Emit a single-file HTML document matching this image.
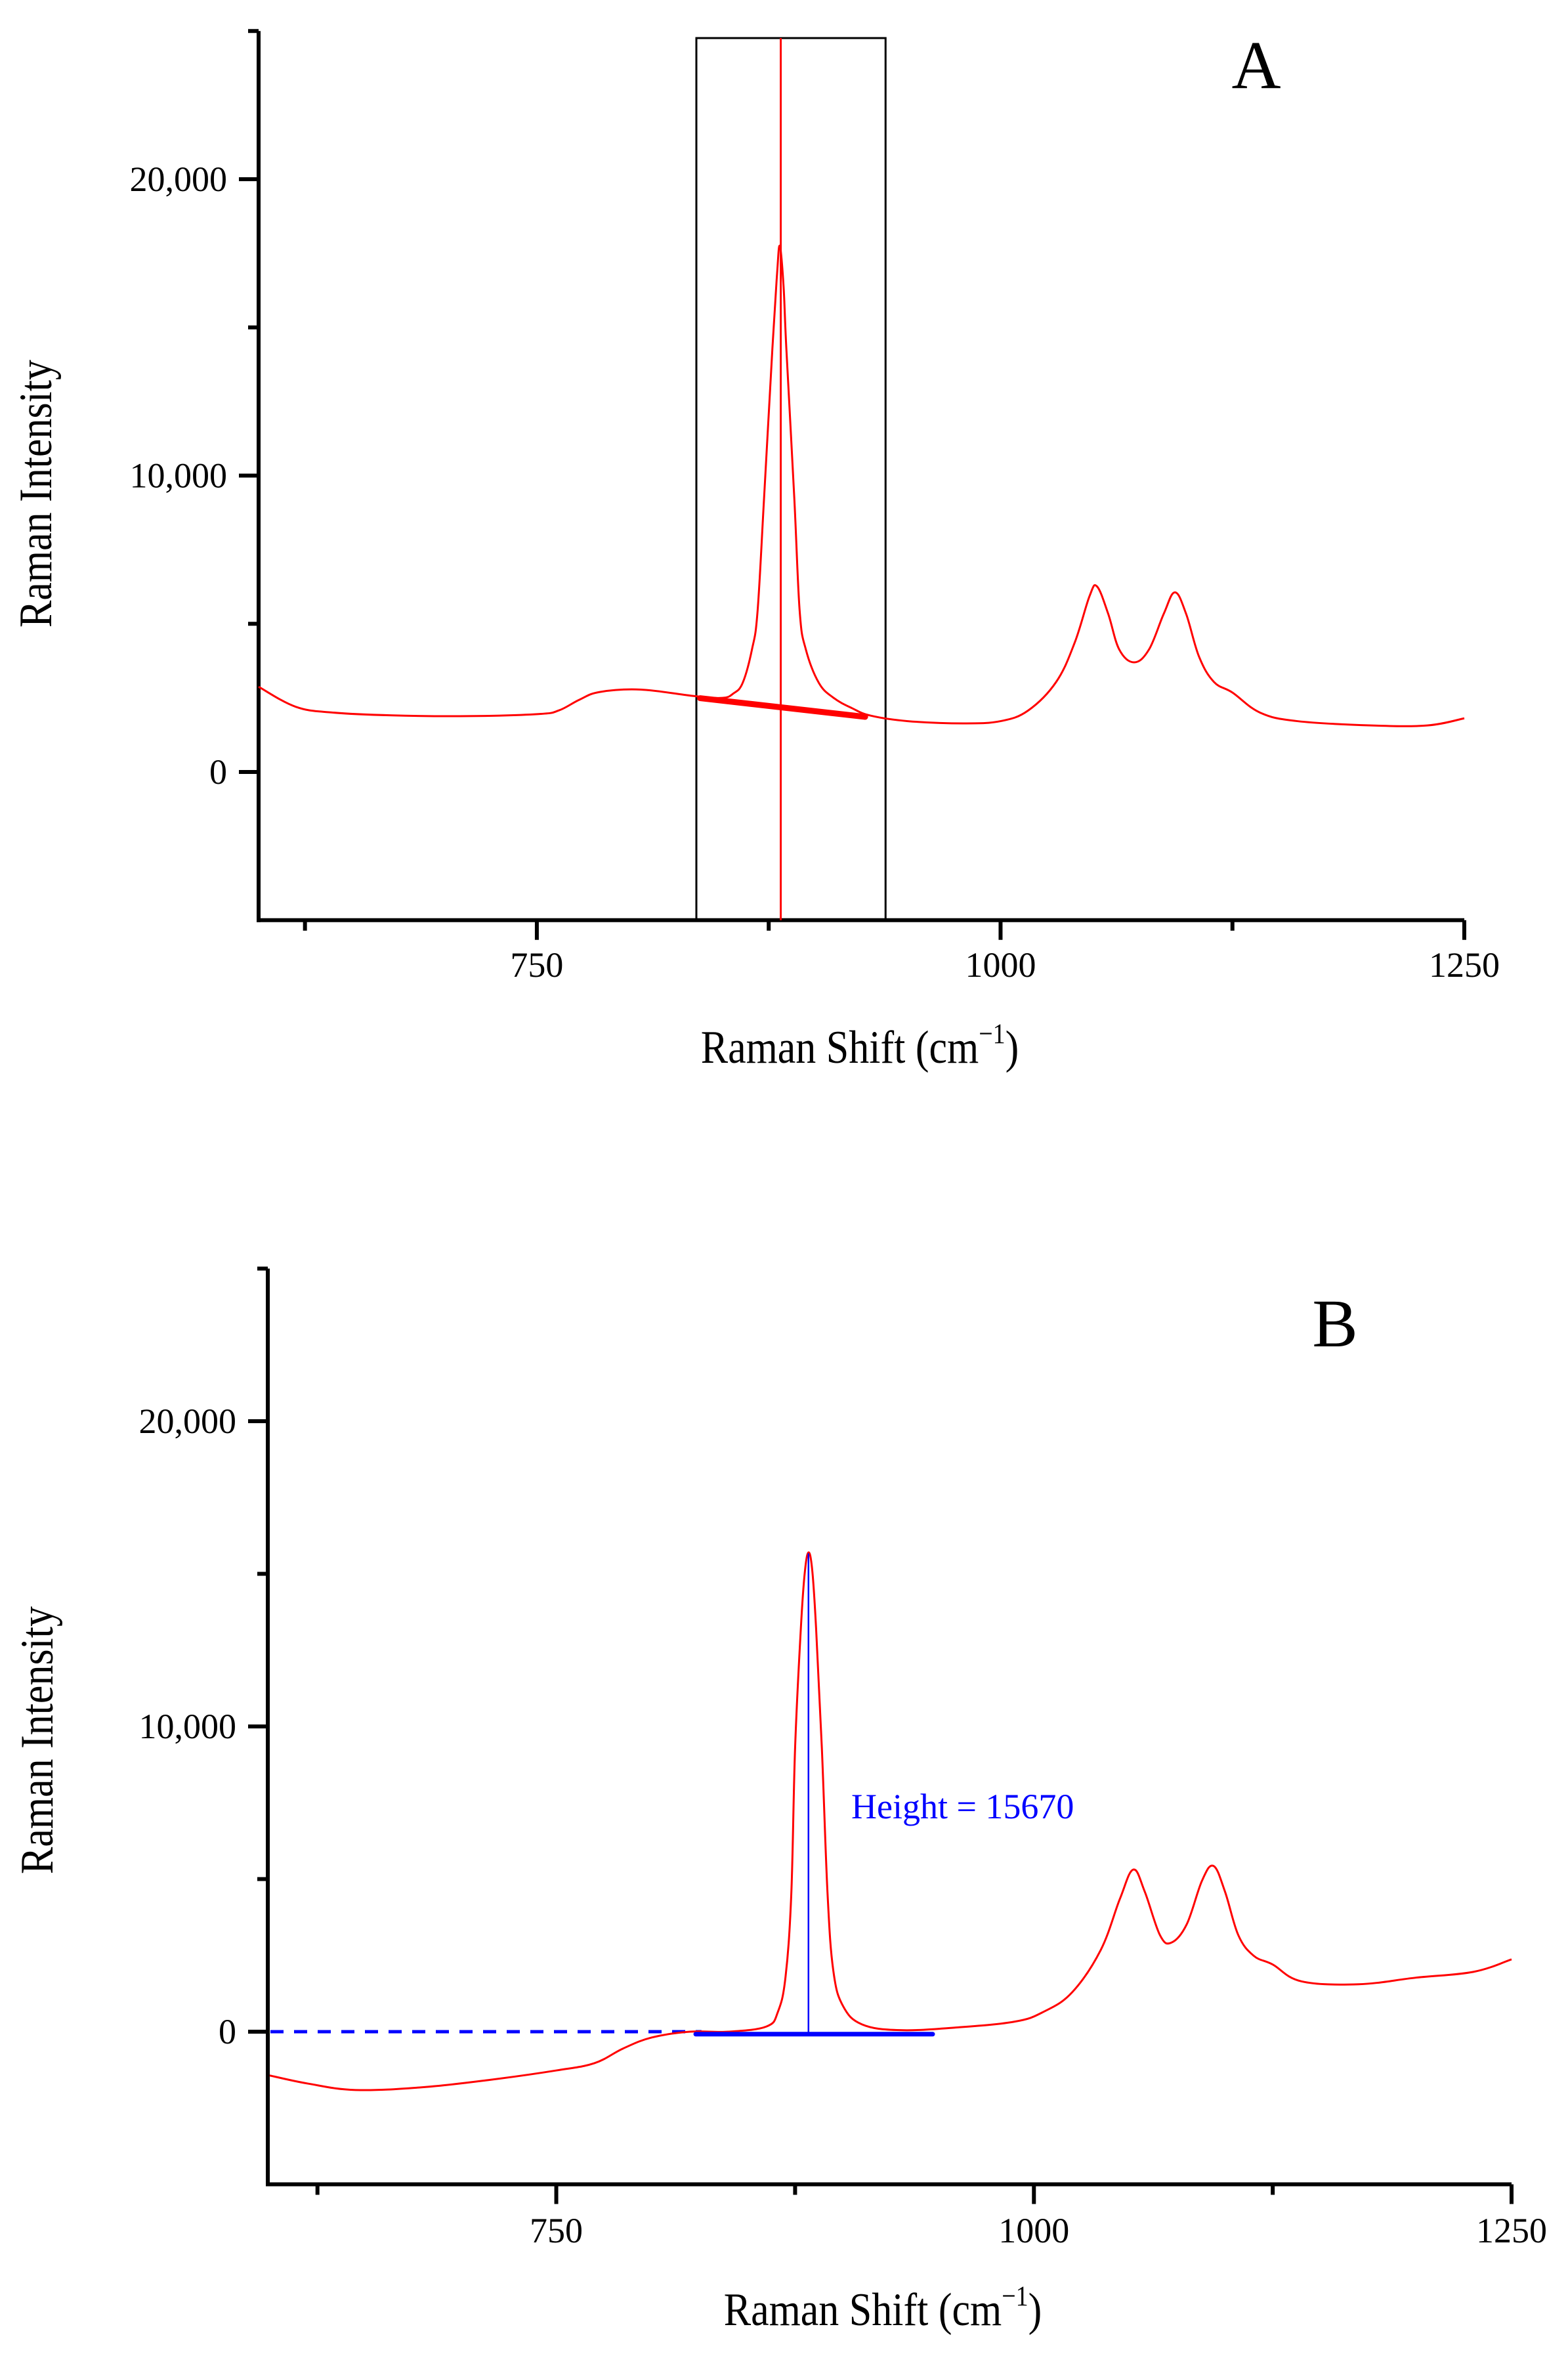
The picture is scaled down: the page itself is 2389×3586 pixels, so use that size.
<!DOCTYPE html>
<html><head><meta charset="utf-8">
<style>
html,body{margin:0;padding:0;background:#fff;}
svg{display:block;}
text{font-family:"Liberation Serif",serif;fill:#000;}
</style></head>
<body>
<svg id="chart" width="2389" height="3586" viewBox="0 0 2389 3586" xmlns="http://www.w3.org/2000/svg"></svg>
<script>
// ---- data ----
const xTicks = [750, 1000, 1250];
const xMinorTicks = [625, 875, 1125];
const yTicks = [0, 10000, 20000];
const yTickLabels = ["0", "10,000", "20,000"];
const yMinorTicks = [5000, 15000, 25000];

const specAx = [600,620,640,672,713,751,762,773,784,806,835,850,856,861,866,869,872.5,877,879.5,881,883,884.5,888.8,891.7,895,902,910,920,930,950,980,1000,1015,1030,1040,1048,1052,1058,1064,1072,1080,1088,1094,1100,1107,1115,1125,1140,1160,1200,1230,1250];
const specAy = [2875,2200,2005,1910,1885,1955,2080,2440,2700,2780,2560,2500,2650,3010,4140,5430,9240,14300,16800,17750,16400,14300,9240,5430,4140,3010,2500,2150,1900,1715,1640,1715,2080,3040,4370,5940,6260,5340,4130,3700,4130,5340,6060,5340,3890,3040,2680,2000,1715,1570,1570,1810];
const baseAx = [838, 927];
const baseAy = [2490, 1860];
const boxAx = [836, 938];
const peakA = 881.5;

const specBx = [600,620,645,680,715,750,770,785,800,820,840,860,866,870,873,875,878,880,882,884,886,889,892,895,900,910,930,960,990,1005,1020,1035,1045,1052,1058,1066,1072,1080,1088,1094,1100,1107,1115,1125,1140,1170,1200,1230,1250];
const specBy = [-1435,-1700,-1910,-1820,-1580,-1270,-1030,-550,-190,0,0,170,650,1800,4500,9300,13200,15000,15700,15100,13200,9300,4500,2000,850,240,50,140,330,650,1290,2680,4350,5310,4590,3160,2920,3520,4950,5430,4590,3160,2490,2200,1650,1555,1770,1960,2370];
const dashB = [599, 826];
const solidB = [823, 947];
const peakB = 882;
const heightB = 15670;

// ---- drawing ----
const NS = "http://www.w3.org/2000/svg";
const svg = document.getElementById("chart");
function mk(tag, attrs, parent){
  const e = document.createElementNS(NS, tag);
  for (const k in attrs) e.setAttribute(k, attrs[k]);
  (parent||svg).appendChild(e);
  return e;
}
function smoothPath(pts){
  let d = "M" + pts[0][0] + "," + pts[0][1];
  for (let i=0;i<pts.length-1;i++){
    const p0 = pts[Math.max(0,i-1)], p1 = pts[i], p2 = pts[i+1], p3 = pts[Math.min(pts.length-1,i+2)];
    const t = 0.18;
    const c1x = p1[0] + (p2[0]-p0[0])*t, c1y = p1[1] + (p2[1]-p0[1])*t;
    const c2x = p2[0] - (p3[0]-p1[0])*t, c2y = p2[1] - (p3[1]-p1[1])*t;
    d += " C" + c1x + "," + c1y + " " + c2x + "," + c2y + " " + p2[0] + "," + p2[1];
  }
  return d;
}

function panel(cfg){
  const g = mk("g", {});
  
  
  const X = v => cfg.x0 + (v - cfg.xmin) / (cfg.xmax - cfg.xmin) * (cfg.x1 - cfg.x0);
  const Y = v => cfg.yZero - v * cfg.yPer;
  const yTop = Y(25000), yBot = Y(-5000);
  cfg.X = X; cfg.Y = Y;

  const ya = mk("line", {x1:cfg.x0, y1:yTop, x2:cfg.x0, y2:yBot+3, stroke:"#000","stroke-width":6}, g);
  
  
  const xa = mk("line", {x1:cfg.x0-3, y1:yBot, x2:cfg.x1, y2:yBot, stroke:"#000","stroke-width":6}, g);
  
  

  yTicks.forEach((v,i)=>{
    const t = mk("line",{x1:cfg.x0-30,y1:Y(v),x2:cfg.x0,y2:Y(v),stroke:"#000","stroke-width":6},g);
    
    
    const l = mk("text",{x:cfg.x0-48,y:Y(v)+18,"font-size":54,"text-anchor":"end"},g);
    l.textContent = yTickLabels[i];
    
    
  });
  yMinorTicks.forEach(v=>{
    const t = mk("line",{x1:cfg.x0-16,y1:Y(v),x2:cfg.x0,y2:Y(v),stroke:"#000","stroke-width":6},g);
    
    
  });
  xTicks.forEach(v=>{
    const t = mk("line",{x1:X(v),y1:yBot,x2:X(v),y2:yBot+30,stroke:"#000","stroke-width":6},g);
    
    
    const l = mk("text",{x:X(v),y:cfg.tickLabelY+18,"font-size":54,"text-anchor":"middle"},g);
    l.textContent = String(v);
    
    
  });
  xMinorTicks.forEach(v=>{
    const t = mk("line",{x1:X(v),y1:yBot,x2:X(v),y2:yBot+16,stroke:"#000","stroke-width":6},g);
    
    
  });

  const xt = mk("text",{x:0,y:0,"font-size":62,"text-anchor":"middle",transform:`translate(${cfg.xTitleX},${cfg.xTitleY+22}) scale(1,1.15)`},g);
  xt.innerHTML = 'Raman Shift (cm<tspan dy="-26" font-size="38">−1</tspan><tspan dy="26">)</tspan>';
  
  
  const yt = mk("text",{x:0,y:0,"font-size":62,"text-anchor":"middle",transform:`translate(${cfg.yTitleX},${cfg.yTitleY}) rotate(-90) scale(1,1.15)`},g);
  yt.textContent = "Raman Intensity";
  
  
  const pl = mk("text",{x:cfg.labelX,y:cfg.labelY+36,"font-size":104,"text-anchor":"middle"},g);
  pl.textContent = cfg.letter;
  
  
  return g;
}

// Panel A
const A = {name:"panel-a", x0:394, x1:2231, xmin:600, xmax:1250, yZero:1176, yPer:0.04515,
  tickLabelY:1470, xTitleX:1310, xTitleY:1597, yTitleX:78, yTitleY:752, labelX:1914, labelY:98, letter:"A"};
const gA = panel(A);
const box = mk("rect",{x:A.X(boxAx[0]),y:58,width:A.X(boxAx[1])-A.X(boxAx[0]),height:A.Y(-5000)-58,fill:"none",stroke:"#000","stroke-width":3},gA);


const vA = mk("line",{x1:A.X(peakA),y1:58,x2:A.X(peakA),y2:A.Y(-5000),stroke:"#f00","stroke-width":3},gA);


const sA = mk("path",{d:smoothPath(specAx.map((v,i)=>[A.X(v),A.Y(specAy[i])])),fill:"none",stroke:"#f00","stroke-width":3,"stroke-linejoin":"round"},gA);


const bA = mk("line",{x1:A.X(baseAx[0]),y1:A.Y(baseAy[0]),x2:A.X(baseAx[1]),y2:A.Y(baseAy[1]),stroke:"#f00","stroke-width":9,"stroke-linecap":"round"},gA);



// Panel B
const B = {name:"panel-b", x0:408, x1:2303, xmin:599, xmax:1250, yZero:3095, yPer:0.0465,
  tickLabelY:3398, xTitleX:1345, xTitleY:3520, yTitleX:80, yTitleY:2651, labelX:2034, labelY:2015, letter:"B"};
const gB = panel(B);
const dB = mk("line",{x1:B.X(dashB[0])+4,y1:B.Y(0),x2:B.X(dashB[1]),y2:B.Y(0),stroke:"#00f","stroke-width":5,"stroke-dasharray":"20,16"},gB);


const sB = mk("path",{d:smoothPath(specBx.map((v,i)=>[B.X(v),B.Y(specBy[i])])),fill:"none",stroke:"#f00","stroke-width":3,"stroke-linejoin":"round"},gB);


const bB = mk("line",{x1:B.X(solidB[0]),y1:B.Y(-80),x2:B.X(solidB[1]),y2:B.Y(-80),stroke:"#00f","stroke-width":7,"stroke-linecap":"round"},gB);


const hB = mk("line",{x1:B.X(peakB),y1:B.Y(-80),x2:B.X(peakB),y2:B.Y(heightB),stroke:"#00f","stroke-width":2.5},gB);


const ht = mk("text",{x:1297,y:2752+18,"font-size":54,fill:"#00f"},gB);
ht.setAttribute("style","fill:#00f");
ht.textContent = "Height = " + heightB;


</script>
</body></html>
